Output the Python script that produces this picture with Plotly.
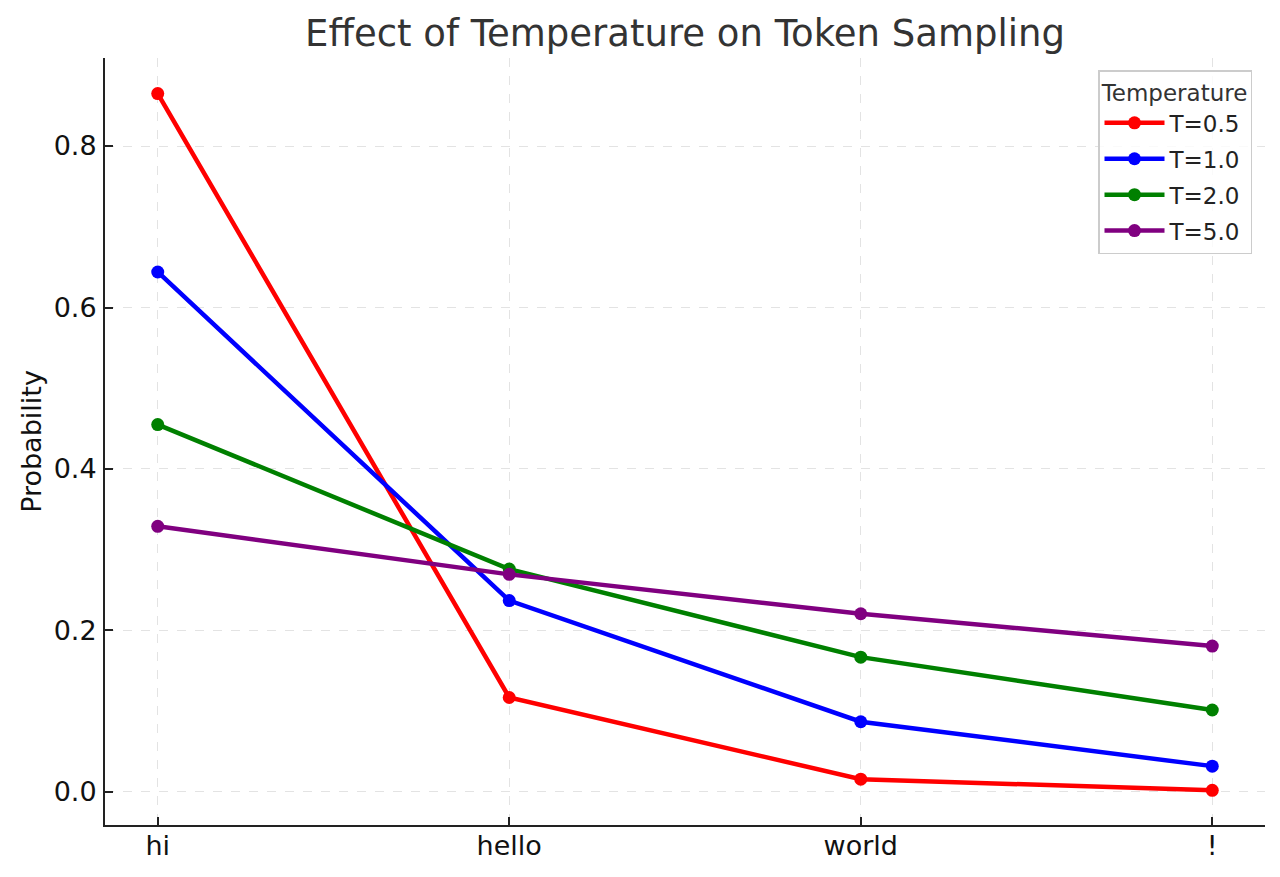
import plotly.graph_objects as go

tokens = ["hi", "hello", "world", "!"]
t05 = [0.865, 0.117, 0.0158, 0.0021]
t10 = [0.644, 0.237, 0.087, 0.032]
t20 = [0.455, 0.276, 0.167, 0.1015]
t50 = [0.329, 0.2695, 0.2207, 0.1807]

series = [("T=0.5", t05, "red"), ("T=1.0", t10, "blue"),
          ("T=2.0", t20, "green"), ("T=5.0", t50, "purple")]

fig = go.Figure()
for name, vals, col in series:
    fig.add_trace(go.Scatter(
        x=tokens, y=vals, mode="lines+markers", name=name, legendgroup=name,
        line=dict(color=col, width=4.5),
        marker=dict(color=col, size=13),
    ))

font = "DejaVu Sans, sans-serif"
fig.update_layout(
    width=1280, height=877,
    paper_bgcolor="white", plot_bgcolor="white",
    margin=dict(l=105, r=15, t=58, b=52, autoexpand=False),
    font=dict(family=font, color="black"),
    title=dict(text="Effect of Temperature on Token Sampling",
               x=0.5, xref="paper", xanchor="center",
               y=1 - 33 / 877, yref="container", yanchor="middle",
               font=dict(size=37, color="#333333", family=font)),
    showlegend=True,
    legend=dict(
        x=1 - 13 / 1160, y=1 - 12 / 767, xanchor="right", yanchor="top",
        bgcolor="rgba(255,255,255,0.8)", bordercolor="#cccccc", borderwidth=1.5,
        font=dict(size=23, color="#222222", family=font),
        title=dict(text="Temperature", side="top center",
                   font=dict(size=23, color="#333333", family=font)),
        itemwidth=60, tracegroupgap=3,
        entrywidth=90, entrywidthmode="pixels",
    ),
)
fig.update_xaxes(
    type="category", range=[-0.15, 3.15], automargin=False,
    showline=True, linecolor="#222222", linewidth=2, mirror=False,
    ticks="inside", ticklen=8, tickwidth=1.8, tickcolor="#222222",
    tickfont=dict(size=27, color="#111111"),
    showgrid=True, gridcolor="#e3e3e3", gridwidth=1, griddash="dash",
    zeroline=False, ticklabelstandoff=-4,
)
fig.update_yaxes(
    range=[-0.0409, 0.909], tickvals=[0, 0.2, 0.4, 0.6, 0.8], automargin=False,
    ticktext=["0.0", "0.2", "0.4", "0.6", "0.8"],
    showline=True, linecolor="#222222", linewidth=2, mirror=False,
    ticks="inside", ticklen=8, tickwidth=1.8, tickcolor="#222222",
    tickfont=dict(size=27, color="#111111"),
    showgrid=True, gridcolor="#e3e3e3", gridwidth=1, griddash="dash",
    zeroline=False, ticklabelstandoff=1,
    title=dict(text="Probability", font=dict(size=27, color="#111111"), standoff=4),
)

fig.write_html("out.html")
